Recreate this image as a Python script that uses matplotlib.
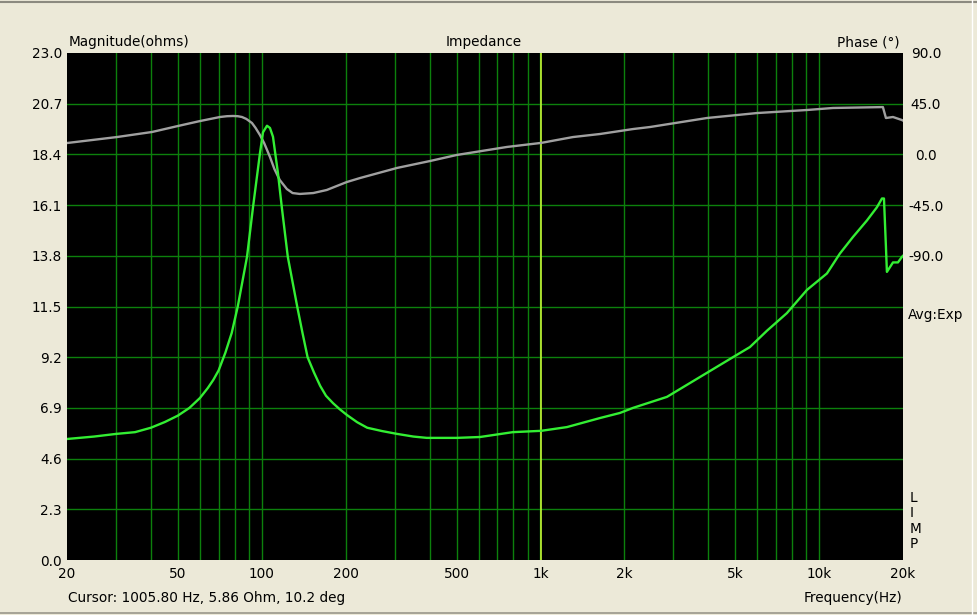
import numpy as np
import matplotlib.pyplot as plt
from matplotlib.lines import Line2D
from matplotlib.ticker import FixedLocator, NullFormatter

# impedance magnitude
mag_freq = [20, 25, 30, 35.1, 40, 44.9, 50, 55, 60, 64, 67, 70, 74, 78, 82,
            88.5, 93, 98.5, 101, 104.4, 107, 109.7, 114.3, 118, 124, 134, 140,
            146, 154, 162, 170, 180, 190, 202, 220, 239, 270, 306, 350, 391,
            501, 607, 796, 1006, 1245, 1635, 1928, 2148, 2844, 3735, 4906,
            5645, 6498, 7662, 9040, 10670, 11870, 13220, 14840, 16120, 16810,
            17090, 17370, 17510, 18410, 19180, 19820, 20000]
mag_ohm = [5.49, 5.6, 5.72, 5.8, 6.0, 6.26, 6.55, 6.9, 7.35, 7.8, 8.17, 8.6,
           9.4, 10.3, 11.5, 13.75, 16.0, 18.45, 19.4, 19.7, 19.6, 19.2, 17.55,
           16.0, 13.75, 11.5, 10.3, 9.2, 8.5, 7.9, 7.45, 7.12, 6.85, 6.58, 6.25,
           6.0, 5.85, 5.72, 5.6, 5.54, 5.54, 5.58, 5.8, 5.86, 6.03, 6.44, 6.67,
           6.9, 7.4, 8.3, 9.2, 9.66, 10.4, 11.2, 12.25, 13.0, 13.9, 14.65, 15.4,
           16.0, 16.4, 16.4, 14.2, 13.07, 13.5, 13.5, 13.75, 13.8]

# phase trace
phase_freq = [20, 30.2, 40.4, 50, 60, 70.8, 75, 78.8, 82, 84.9, 88, 92.2, 95,
              98.5, 102, 107, 111, 116, 123, 129, 137, 153, 171, 202, 225, 306,
              401, 501, 758, 1006, 1308, 1635, 2148, 2471, 3958, 5982, 9040,
              11210, 16940, 17370, 18410, 19820, 20000]
phase_deg = [10.1, 15.4, 19.9, 25.2, 29.6, 33.2, 33.9, 34.1, 33.9, 33.2, 31.5,
             27.9, 23.5, 17.2, 10.0, -2.3, -13.0, -22.7, -30.7, -34.3, -35.1,
             -34.3, -31.6, -24.5, -21, -12, -5.9, -0.5, 6.6, 10.2, 15.4, 18.1,
             22.5, 24.3, 32.3, 36.7, 39.4, 41.2, 42, 32.3, 33.2, 30.5, 30.0]

ohm_ticks = [0.0, 2.3, 4.6, 6.9, 9.2, 11.5, 13.8, 16.1, 18.4, 20.7, 23.0]
phase_ticks = [90, 45, 0, -45, -90]
freq_ticks = [20, 50, 100, 200, 500, 1000, 2000, 5000, 10000, 20000]
freq_labels = ['20', '50', '100', '200', '500', '1k', '2k', '5k', '10k', '20k']
cursor_freq = 1005.8

plt.rcParams['font.family'] = 'DejaVu Sans'
plt.rcParams['font.size'] = 9.8

W, H = 977, 615
bg = '#ece9d8'
grid_col = '#0c800c'
fig = plt.figure(figsize=(W / 100, H / 100), dpi=100, facecolor=bg)

left, right, top, bottom = 67, 903, 53, 560
rect = [left / W, 1 - bottom / H, (right - left) / W, (bottom - top) / H]
ax_ph = fig.add_axes(rect, facecolor='black')
ax_mag = ax_ph.twinx()
ax_mag.yaxis.tick_left()
ax_ph.yaxis.tick_right()

# x axis (log)
ax_ph.set_xscale('log')
ax_ph.set_xlim(20, 20000)
grid_freqs = [m * 10 ** d for d in range(1, 5) for m in range(1, 10)
              if 20 < m * 10 ** d < 20000]
ax_ph.xaxis.remove_overlapping_locs = False
ax_ph.yaxis.remove_overlapping_locs = False
ax_ph.xaxis.set_major_locator(FixedLocator(freq_ticks))
ax_ph.set_xticklabels(freq_labels)
ax_ph.xaxis.set_minor_locator(FixedLocator(grid_freqs))
ax_ph.xaxis.set_minor_formatter(NullFormatter())
ax_ph.tick_params(axis='x', which='both', length=0, pad=5)

# right axis: phase
ax_ph.set_ylim(-360, 90)
ax_ph.yaxis.set_major_locator(FixedLocator(phase_ticks))
ax_ph.set_yticklabels([f'{v:.1f}' for v in phase_ticks])
ax_ph.yaxis.set_minor_locator(FixedLocator(np.arange(-315, 90, 45)))
ax_ph.yaxis.set_minor_formatter(NullFormatter())
ax_ph.tick_params(axis='y', which='both', length=0, pad=16.5)
for lab in ax_ph.get_yticklabels():
    lab.set_ha('center')

ax_ph.grid(True, which='minor', color=grid_col, lw=1.0)
ax_ph.grid(False, which='major')

# left axis: magnitude
ax_mag.set_ylim(0, 23)
ax_mag.set_yticks(ohm_ticks)
ax_mag.set_yticklabels([f'{v:.1f}' for v in ohm_ticks])
ax_mag.tick_params(axis='y', length=0, pad=3.6)

for a in (ax_ph, ax_mag):
    for s in a.spines.values():
        s.set_visible(False)

ax_ph.axvline(cursor_freq, color='#c4f535', lw=1.2, zorder=3)
ax_ph.plot(phase_freq, phase_deg, color='#a0a0a0', lw=1.7, zorder=4)
ax_mag.plot(mag_freq, mag_ohm, color='#33ee33', lw=1.7, zorder=4)

def px(x, y):
    return x / W, 1 - y / H

fig.text(*px(69, 42), 'Magnitude(ohms)', ha='left', va='center')
fig.text(*px(484, 42), 'Impedance', ha='center', va='center')
fig.text(*px(900, 42), 'Phase (°)', ha='right', va='center')
fig.text(*px(68, 598), 'Cursor: 1005.80 Hz, 5.86 Ohm, 10.2 deg', ha='left', va='center')
fig.text(*px(902, 598), 'Frequency(Hz)', ha='right', va='center')
fig.text(*px(908, 315), 'Avg:Exp', ha='left', va='center')
fig.text(*px(910, 521), 'L\nI\nM\nP', ha='left', va='center', multialignment='left',
         linespacing=1.15)

# window frame edges
fig.add_artist(Line2D([0, 1], [1 - 1.5 / H] * 2, transform=fig.transFigure,
                      color='#8c8a80', lw=1.5))
fig.add_artist(Line2D([0, 1], [1 - 612.5 / H] * 2, transform=fig.transFigure,
                      color='#9a978a', lw=1.2))
fig.add_artist(Line2D([972 / W] * 2, [0, 1], transform=fig.transFigure,
                      color='#ffffff', lw=1.0))

fig.savefig('out.png', dpi=100, facecolor=bg)
